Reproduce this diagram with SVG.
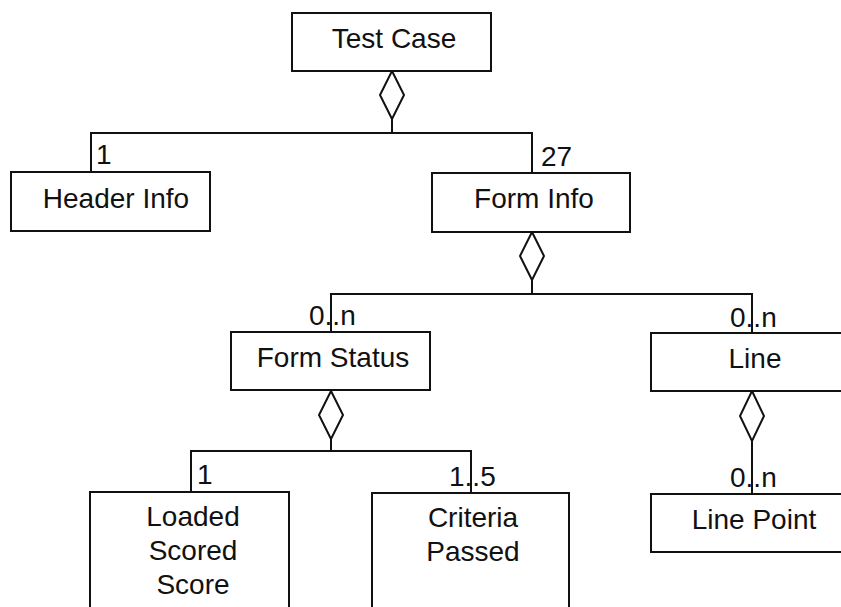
<svg xmlns="http://www.w3.org/2000/svg" width="841" height="607" viewBox="0 0 841 607">
<style>
.box{fill:#fff;stroke:#111;stroke-width:2}
.t{font-family:"Liberation Sans",Arial,sans-serif;font-size:28px;fill:#111;text-anchor:middle}
.m{font-family:"Liberation Sans",Arial,sans-serif;font-size:28px;fill:#111}
.c{fill:none;stroke:#111;stroke-width:2}
.d{fill:#fff;stroke:#111;stroke-width:2}
</style>
<rect width="841" height="607" fill="#fff"/>
<g id="connectors">
<polyline class="c" points="91,172 91,133 532,133 532,173"/>
<line class="c" x1="392" y1="119" x2="392" y2="133"/>
<polygon class="d" points="392,71 404,95 392,119 380,95"/>
<polyline class="c" points="331,332 331,294 752,294 752,333"/>
<line class="c" x1="532" y1="280" x2="532" y2="294"/>
<polygon class="d" points="532,232 544,256 532,280 520,256"/>
<polyline class="c" points="191,492 191,451 471,451 471,493"/>
<line class="c" x1="331" y1="439" x2="331" y2="451"/>
<polygon class="d" points="331,391 343,415 331,439 319,415"/>
<line class="c" x1="752" y1="441" x2="752" y2="494"/>
<polygon class="d" points="752,391 764,416 752,441 740,416"/>
<text class="m" x="96" y="164">1</text>
<text class="m" x="541" y="166">27</text>
<text class="m" x="309" y="325">0..n</text>
<text class="m" x="730" y="327">0..n</text>
<text class="m" x="197" y="484">1</text>
<text class="m" x="449" y="486">1..5</text>
<text class="m" x="730" y="487">0..n</text>
</g>
<g id="test-case"><rect class="box" x="292" y="13" width="199" height="58"/><text class="t" x="394" y="48">Test Case</text></g>
<g id="header-info"><rect class="box" x="11" y="172" width="199" height="59"/><text class="t" x="116" y="208">Header Info</text></g>
<g id="form-info"><rect class="box" x="432" y="173" width="198" height="59"/><text class="t" x="534" y="208">Form Info</text></g>
<g id="form-status"><rect class="box" x="231" y="332" width="199" height="58"/><text class="t" x="333" y="367">Form Status</text></g>
<g id="line"><rect class="box" x="651" y="333" width="202" height="58"/><text class="t" x="755" y="368">Line</text></g>
<g id="loaded-scored-score"><rect class="box" x="90" y="492" width="199" height="150"/><text class="t" x="193" y="526">Loaded</text><text class="t" x="193" y="560">Scored</text><text class="t" x="193" y="594">Score</text></g>
<g id="criteria-passed"><rect class="box" x="372" y="493" width="197" height="150"/><text class="t" x="473" y="527">Criteria</text><text class="t" x="473" y="561">Passed</text></g>
<g id="line-point"><rect class="box" x="651" y="494" width="202" height="58"/><text class="t" x="754" y="529">Line Point</text></g>
</svg>
